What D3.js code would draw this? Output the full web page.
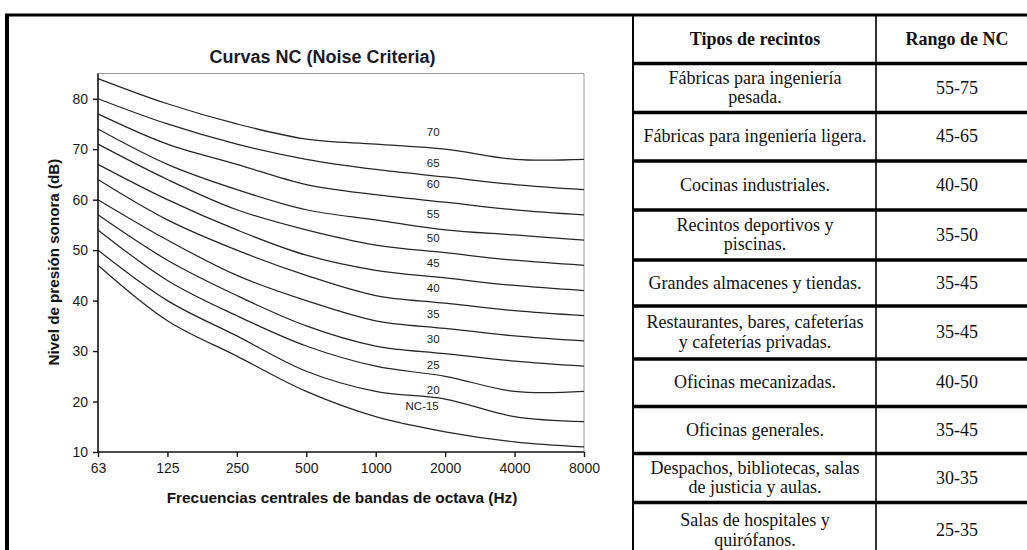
<!DOCTYPE html>
<html><head><meta charset="utf-8">
<script src="https://cdn.jsdelivr.net/npm/d3@7"></script>
<style>
html,body{margin:0;padding:0;background:#fff;}
svg{display:block;}
</style></head><body>
<svg id="c" width="1027" height="550"></svg>
<script>
// ---------- data ----------
const frequencies = ["63","125","250","500","1000","2000","4000","8000"];
const yTickValues = [10,20,30,40,50,60,70,80];
const nc15 = [47,36,29,22,17,14,12,11];
const nc20 = [50,40,33,26,22,20.5,17,16];
const nc25 = [54,44,37,31,27,25,22,22];
const nc30 = [57,48,41,35,31,29.5,28,27];
const nc35 = [60,52,45,40,36,34.5,33,32];
const nc40 = [64,56,50,45,41,39.5,38,37];
const nc45 = [67,60,54,49,46,44.5,43,42];
const nc50 = [71,64,58,54,51,49.5,48,47];
const nc55 = [74,67,62,58,56,54,53,52];
const nc60 = [77,71,67,63,61,59.5,58,57];
const nc65 = [80,75,71,68,66,64.5,63,62];
const nc70 = [84,79,75,72,71,70,68,68];
const curveLabels = ["NC-15","20","25","30","35","40","45","50","55","60","65","70"];
const labelLevels = [19.1,22.3,27.2,32.5,37.4,42.6,47.4,52.5,57.1,63.2,67.2,73.4];
const tableHeaders = ["Tipos de recintos","Rango de NC"];
const recintos = [
  "Fábricas para ingeniería\npesada.",
  "Fábricas para ingeniería ligera.",
  "Cocinas industriales.",
  "Recintos deportivos y\npiscinas.",
  "Grandes almacenes y tiendas.",
  "Restaurantes, bares, cafeterías\ny cafeterías privadas.",
  "Oficinas mecanizadas.",
  "Oficinas generales.",
  "Despachos, bibliotecas, salas\nde justicia y aulas.",
  "Salas de hospitales y\nquirófanos."
];
const rangos = ["55-75","45-65","40-50","35-50","35-45","35-45","40-50","35-45","30-35","25-35"];

const series = [nc15,nc20,nc25,nc30,nc35,nc40,nc45,nc50,nc55,nc60,nc65,nc70];

// ---------- layout ----------
const svg = d3.select("#c");
const plot = {left:98, right:584, top:73.5, bottom:452};
const x = d3.scalePoint().domain(frequencies).range([plot.left, plot.right]);
const y = d3.scaleLinear().domain([10,85]).range([plot.bottom, plot.top]);

// frame
svg.append("line").attr("x1",5).attr("x2",1027).attr("y1",15).attr("y2",15)
  .attr("stroke","#000").attr("stroke-width",3);
svg.append("line").attr("x1",7).attr("x2",7).attr("y1",14).attr("y2",550)
  .attr("stroke","#000").attr("stroke-width",4);

// title
svg.append("text").attr("x",322.5).attr("y",62.5).attr("text-anchor","middle")
  .attr("font-family","Liberation Sans, Arial, sans-serif").attr("font-weight","bold")
  .attr("font-size",18).attr("fill","#1a1a2a").text("Curvas NC (Noise Criteria)");

// plot box (top/right)
svg.append("path").attr("d",`M${plot.left},${plot.top}H${plot.right}V${plot.bottom}`)
  .attr("fill","none").attr("stroke","#9a9a9a").attr("stroke-width",1);

// curves
const line = d3.line().x((d,i)=>x(frequencies[i])).y(d=>y(d)).curve(d3.curveCatmullRom.alpha(0.5));
svg.append("g").selectAll("path").data(series).join("path")
  .attr("d",line).attr("fill","none").attr("stroke","#262626").attr("stroke-width",1.25);

// curve labels
const lg = svg.append("g").attr("font-family","Liberation Sans, Arial, sans-serif")
  .attr("font-size",11.5).attr("fill","#1a1a1a");
curveLabels.forEach((t,i)=>{
  const lx = x("2000") - (i===0 ? 23 : 12);
  const ly = y(labelLevels[i]);
  if (i===0) {
    lg.append("rect").attr("x",lx-21).attr("y",ly-7).attr("width",41).attr("height",23.5).attr("fill","#fff");
  }
  lg.append("text").attr("x",lx).attr("y",ly).attr("dy","0.36em").attr("text-anchor","middle").text(t);
});

// axes
const yAxis = d3.axisLeft(y).tickValues(yTickValues).tickSize(5).tickPadding(5);
const gy = svg.append("g").attr("transform",`translate(${plot.left},0)`).call(yAxis);
const xAxis = d3.axisBottom(x).tickSize(5).tickPadding(6);
const gx = svg.append("g").attr("transform",`translate(0,${plot.bottom})`).call(xAxis);
[gx,gy].forEach(g=>{
  g.select(".domain").attr("stroke","#111").attr("stroke-width",1.6);
  g.selectAll(".tick line").attr("stroke","#111").attr("stroke-width",1.4);
  g.selectAll(".tick text").attr("font-family","Liberation Sans, Arial, sans-serif")
    .attr("font-size",14).attr("fill","#1a1a1a");
});
gy.select(".domain").attr("d",`M0,${plot.bottom}V${plot.top}`);
gx.select(".domain").attr("d",`M${plot.left},0H${plot.right}`);

// axis titles
svg.append("text").attr("x",342).attr("y",503).attr("text-anchor","middle")
  .attr("font-family","Liberation Sans, Arial, sans-serif").attr("font-weight","bold")
  .attr("font-size",15.4).attr("fill","#111").text("Frecuencias centrales de bandas de octava (Hz)");
svg.append("text").attr("transform","translate(59,262) rotate(-90)").attr("text-anchor","middle")
  .attr("font-family","Liberation Sans, Arial, sans-serif").attr("font-weight","bold")
  .attr("font-size",15.2).attr("fill","#111").text("Nivel de presión sonora (dB)");

// ---------- table ----------
const tLeft = 632, tDiv = 876, tRight = 1038;
const rowBounds = [15,63.5,112.5,161,210,260,306,359,406.5,453.5,502.5,566];
const tg = svg.append("g").attr("font-family","Liberation Serif, Times New Roman, serif")
  .attr("font-size",18).attr("fill","#111");
rowBounds.slice(1).forEach(b=>{
  tg.append("line").attr("x1",tLeft).attr("x2",1027).attr("y1",b).attr("y2",b)
    .attr("stroke","#000").attr("stroke-width",3.5);
});
tg.append("line").attr("x1",tLeft+1).attr("x2",tLeft+1).attr("y1",14).attr("y2",550)
  .attr("stroke","#000").attr("stroke-width",2);
tg.append("line").attr("x1",tDiv).attr("x2",tDiv).attr("y1",14).attr("y2",550)
  .attr("stroke","#000").attr("stroke-width",1.6);
const c1 = (tLeft+tDiv)/2 + 1, c2 = (tDiv+tRight)/2;
function cellText(cx, top, bottom, str, bold, lh){
  const lines = str.split("\n");
  const mid = (top+bottom)/2;
  lines.forEach((l,k)=>{
    tg.append("text").attr("x",cx).attr("y",mid + (k-(lines.length-1)/2)*lh + 5.5)
      .attr("text-anchor","middle").attr("font-weight",bold?"bold":"normal").text(l);
  });
}
cellText(c1,rowBounds[0],rowBounds[1],tableHeaders[0],true,19.5);
cellText(c2,rowBounds[0],rowBounds[1],tableHeaders[1],true,19.5);
recintos.forEach((r,i)=>{
  const last = i === recintos.length-1;
  const lh = last ? 20 : 19.5;
  const bot = last ? rowBounds[i+2] - 7.5 : rowBounds[i+2];
  cellText(c1,rowBounds[i+1],bot,r,false,lh);
  cellText(c2,rowBounds[i+1],bot,rangos[i],false,lh);
});
</script>
</body></html>
